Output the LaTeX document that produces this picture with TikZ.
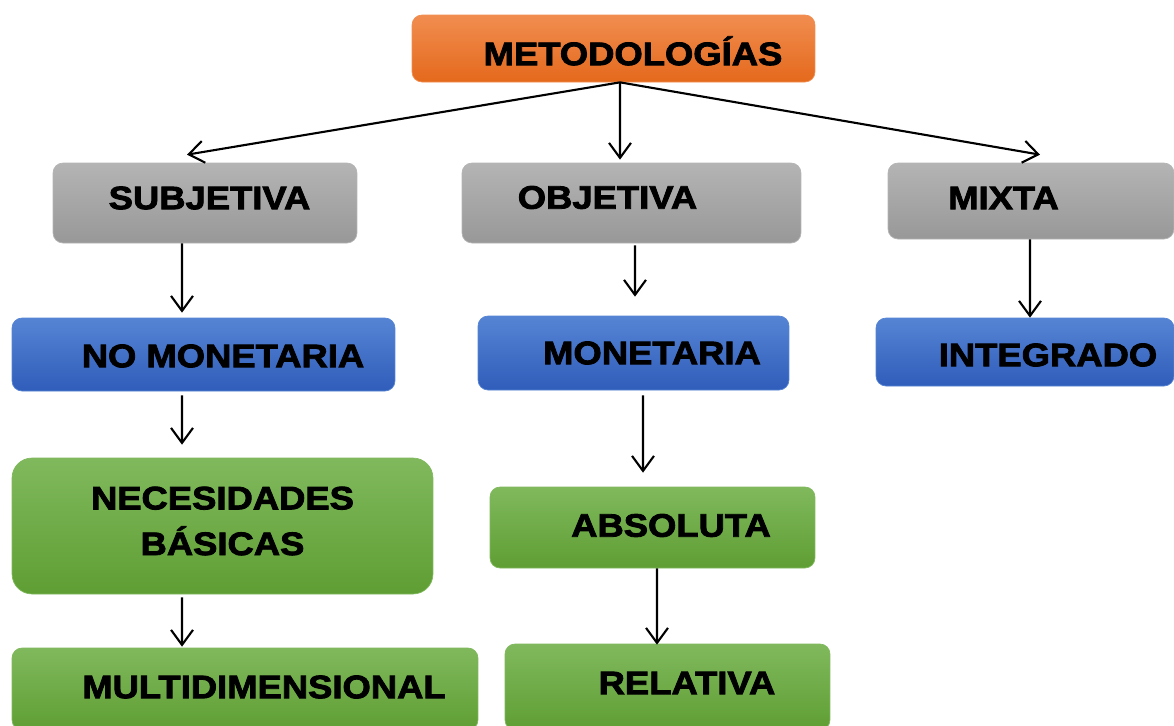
\documentclass[tikz,border=0pt]{standalone}
\usepackage{fontspec}
\setmainfont{Liberation Sans}
\newfontfamily\lblfont{Liberation Sans}[FakeStretch=1.12, BoldFeatures={FakeBold=2.5}]
\usetikzlibrary{arrows.meta}
\definecolor{orgtop}{HTML}{F18D50}
\definecolor{orgbot}{HTML}{E4691C}
\definecolor{grytop}{HTML}{B4B4B4}
\definecolor{grybot}{HTML}{989898}
\definecolor{blutop}{HTML}{5684D4}
\definecolor{blubot}{HTML}{2F5DBA}
\definecolor{grntop}{HTML}{80B95D}
\definecolor{grnbot}{HTML}{5F9E33}

\begin{document}
\begin{tikzpicture}[x=0.02cm, y=-0.02cm]
\tikzstyle{box}=[rectangle, rounded corners=0.2cm, draw=white!85!black, line width=0.4pt,
                        inner sep=0pt]
\tikzstyle{orgbox}=[box, top color=orgtop, bottom color=orgbot, draw=orgtop]
\tikzstyle{grybox}=[box, top color=grytop, bottom color=grybot, draw=grytop]
\tikzstyle{blubox}=[box, top color=blutop, bottom color=blubot, draw=blutop]
\tikzstyle{grnbox}=[box, top color=grntop, bottom color=grnbot, draw=grntop]
\tikzstyle{lbl}=[font=\lblfont\bfseries\fontsize{18.5}{26}\selectfont, inner sep=0pt, align=center]
\tikzstyle{arr}=[-{Straight Barb[length=0.3cm, width=0.44cm]}, line width=1.2pt]
\useasboundingbox (0,0) rectangle (1174,725);
\clip (0,0) rectangle (1174,725);
	\node[orgbox, minimum width=8.06cm, minimum height=1.34cm,
	      label={[lbl, text height=13.2pt, text depth=0pt, xshift=0.39cm, yshift=-0.1cm]center:METODOLOGÍAS}] (met) at (613.5,48.5){};
	\node[grybox, minimum width=6.08cm, minimum height=1.6cm,
	      label={[lbl, xshift=0.09cm, yshift=0.1cm]center:SUBJETIVA}] (subj) at (205,203){};
	\node[grybox, minimum width=6.78cm, minimum height=1.6cm,
	      label={[lbl, xshift=-0.48cm, yshift=0.11cm]center:OBJETIVA}] (obj) at (631.5,203){};
	\node[grybox, minimum width=5.72cm, minimum height=1.52cm,
	      label={[lbl, xshift=-0.55cm, yshift=0.06cm]center:MIXTA}] (mixta) at (1031,201){};
	\node[blubox, minimum width=7.66cm, minimum height=1.46cm,
	      label={[lbl, xshift=0.39cm, yshift=-0.03cm]center:NO MONETARIA}] (nomon) at (203.5,354.5){};
	\node[blubox, minimum width=6.22cm, minimum height=1.48cm,
	      label={[lbl, xshift=0.37cm]center:MONETARIA}] (mon) at (633.5,353){};
	\node[blubox, minimum width=5.96cm, minimum height=1.36cm,
	      label={[lbl, xshift=0.46cm, yshift=-0.06cm]center:INTEGRADO}] (integ) at (1025,352){};
	\node[grnbox, rounded corners=0.4cm, minimum width=8.42cm, minimum height=2.72cm,
	      label={[lbl, yshift=0.1cm]center:NECESIDADES\\BÁSICAS}] (nec) at (222.5,526){};
	\node[grnbox, minimum width=6.5cm, minimum height=1.62cm,
	      label={[lbl, xshift=0.37cm, yshift=0.04cm]center:ABSOLUTA}] (abs) at (652.5,527.5){};
	\node[grnbox, minimum width=9.32cm, minimum height=1.64cm,
	      label={[lbl, xshift=0.38cm, yshift=0.04cm]center:MULTIDIMENSIONAL}] (multi) at (245,689){};
	\node[grnbox, minimum width=6.5cm, minimum height=1.72cm,
	      label={[lbl, xshift=0.39cm, yshift=0.08cm]center:RELATIVA}] (rel) at (667.5,687){};
\draw[arr] ([xshift=0.13cm]met.south) -- ([xshift=-0.36cm, yshift=0.16cm]subj.north);
\draw[arr] ([xshift=0.13cm]met.south) -- ([xshift=-0.23cm, yshift=0.06cm]obj.north);
\draw[arr] ([xshift=0.13cm]met.south) -- ([xshift=0.18cm, yshift=0.16cm]mixta.north);
\draw[arr] ([xshift=-0.46cm]subj.south) -- ([xshift=-0.43cm, yshift=0.1cm]nomon.north);
\draw[arr] ([xshift=0.07cm, yshift=-0.04cm]obj.south) -- ([xshift=0.03cm, yshift=0.38cm]mon.north);
\draw[arr] ([xshift=-0.02cm]mixta.south) -- ([xshift=0.1cm]integ.north);
\draw[arr] ([xshift=-0.43cm, yshift=-0.08cm]nomon.south) -- ([xshift=-0.81cm, yshift=0.26cm]nec.north);
\draw[arr] ([xshift=0.19cm, yshift=-0.1cm]mon.south) -- ([xshift=-0.19cm, yshift=0.28cm]abs.north);
\draw[arr] ([xshift=-0.81cm, yshift=-0.06cm]nec.south) -- ([xshift=-1.26cm, yshift=0.02cm]multi.north);
\draw[arr] ([xshift=0.09cm]abs.south) -- ([xshift=-0.21cm, yshift=-0.02cm]rel.north);
\end{tikzpicture}
\end{document}
